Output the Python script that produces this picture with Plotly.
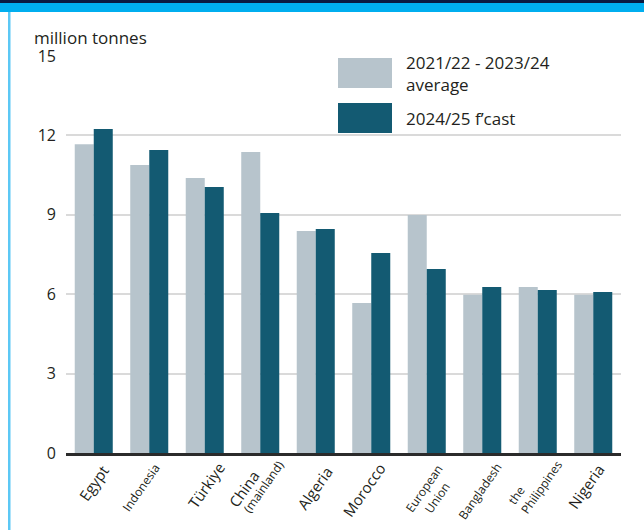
import plotly.graph_objects as go

categories = ["Egypt", "Indonesia", "Türkiye", "China (mainland)", "Algeria", "Morocco",
              "European Union", "Bangladesh", "the Philippines", "Nigeria"]
avg_2122_2324 = [11.67, 10.88, 10.39, 11.37, 8.39, 5.67, 8.99, 5.98, 6.27, 5.98]
fcast_2425 = [12.24, 11.45, 10.05, 9.07, 8.46, 7.56, 6.95, 6.27, 6.16, 6.08]
series_names = ["2021/22 - 2023/24<br>average", "2024/25 f’cast"]
y_ticks = [0, 3, 6, 9, 12, 15]

# category label lines: (category index, text, font size, x offset of text end, y of text end)
label_lines = [
    (0, "Egypt", 15, 12, 464),
    (1, "Indonesia", 12, 10, 463),
    (2, "Türkiye", 15, 17, 461),
    (3, "China", 15, -4, 470),
    (3, "(mainland)", 12, 23, 460),
    (4, "Algeria", 15, 14, 466),
    (5, "Morocco", 15, 11, 462),
    (6, "European", 12, 15, 464),
    (6, "Union", 12, 22.5, 481),
    (7, "Bangladesh", 12, 18, 462),
    (8, "the", 12, -14, 485),
    (8, "Philippines", 12, 23, 460),
    (9, "Nigeria", 15, 8.5, 463),
]
LABEL_DX = -4.5

LIGHT = "#b7c4cc"
DARK = "#135a72"
FONT = "Open Sans"
TXT = "#231f20"

W, H = 644, 530
ML, MR, MT, MB = 66, 23, 56, 77
PW, PH = W - ML - MR, H - MT - MB


def px(x):
    return (x - ML) / PW


def py(y):
    return (H - MB - y) / PH


fig = go.Figure()
fig.add_trace(go.Bar(x=categories, y=avg_2122_2324, name=series_names[0],
                     marker=dict(color=LIGHT, line=dict(width=0))))
fig.add_trace(go.Bar(x=categories, y=fcast_2425, name=series_names[1],
                     marker=dict(color=DARK, line=dict(width=0))))

shapes = [
    dict(type="rect", xref="paper", yref="paper", x0=px(0), x1=px(W), y0=py(12), y1=py(3),
         fillcolor="#00aeef", line=dict(width=0), layer="above"),
    dict(type="rect", xref="paper", yref="paper", x0=px(0), x1=px(W), y0=py(3), y1=py(0),
         fillcolor="#0a1a40", line=dict(width=0), layer="above"),
    dict(type="rect", xref="paper", yref="paper", x0=px(8), x1=px(10.5), y0=py(H), y1=py(12),
         fillcolor="#5cc8f5", line=dict(width=0), layer="above"),
    dict(type="rect", xref="paper", yref="paper", x0=px(338), x1=px(392), y0=py(88), y1=py(58),
         fillcolor=LIGHT, line=dict(width=0), layer="above"),
    dict(type="rect", xref="paper", yref="paper", x0=px(338), x1=px(392), y0=py(133), y1=py(103),
         fillcolor=DARK, line=dict(width=0), layer="above"),
]

annotations = [
    dict(text="million tonnes", xref="paper", yref="paper", x=px(34), y=py(37.5),
         xanchor="left", yanchor="middle", showarrow=False, borderpad=0, borderwidth=0,
         font=dict(size=17, color=TXT, family=FONT)),
    dict(text=series_names[0], xref="paper", yref="paper", x=px(404), y=py(74),
         xanchor="left", yanchor="middle", align="left", showarrow=False,
         font=dict(size=17, color=TXT, family=FONT)),
    dict(text=series_names[1], xref="paper", yref="paper", x=px(404), y=py(118),
         xanchor="left", yanchor="middle", align="left", showarrow=False,
         font=dict(size=17, color=TXT, family=FONT)),
]

for ci, txt, fs, dx, ty in label_lines:
    annotations.append(dict(
        text=txt, xref="x", yref="paper", x=categories[ci], y=py(ty - 0.207 * fs),
        xanchor="right", yanchor="top", xshift=dx + 0.77 * fs + LABEL_DX, textangle=-55,
        showarrow=False, borderpad=0, borderwidth=0,
        font=dict(size=fs, color=TXT, family=FONT)))

fig.update_layout(
    width=W, height=H,
    margin=dict(l=ML, r=MR, t=MT, b=MB, pad=0, autoexpand=False),
    paper_bgcolor="white", plot_bgcolor="white",
    barmode="group", bargap=0.315, bargroupgap=0,
    showlegend=False,
    font=dict(family=FONT, color=TXT),
    shapes=shapes, annotations=annotations,
    xaxis=dict(showticklabels=False, showline=True, linecolor="#2b2b2b", linewidth=3,
               ticks="", showgrid=False, fixedrange=True, automargin=False),
    yaxis=dict(range=[0, 15], tickvals=y_ticks, showgrid=True, gridcolor="#dadada",
               gridwidth=2, zeroline=False, showline=False, ticks="", automargin=False,
               ticklabelstandoff=9, tickfont=dict(size=16, color=TXT, family=FONT)),
)

fig.write_html("out.html")
